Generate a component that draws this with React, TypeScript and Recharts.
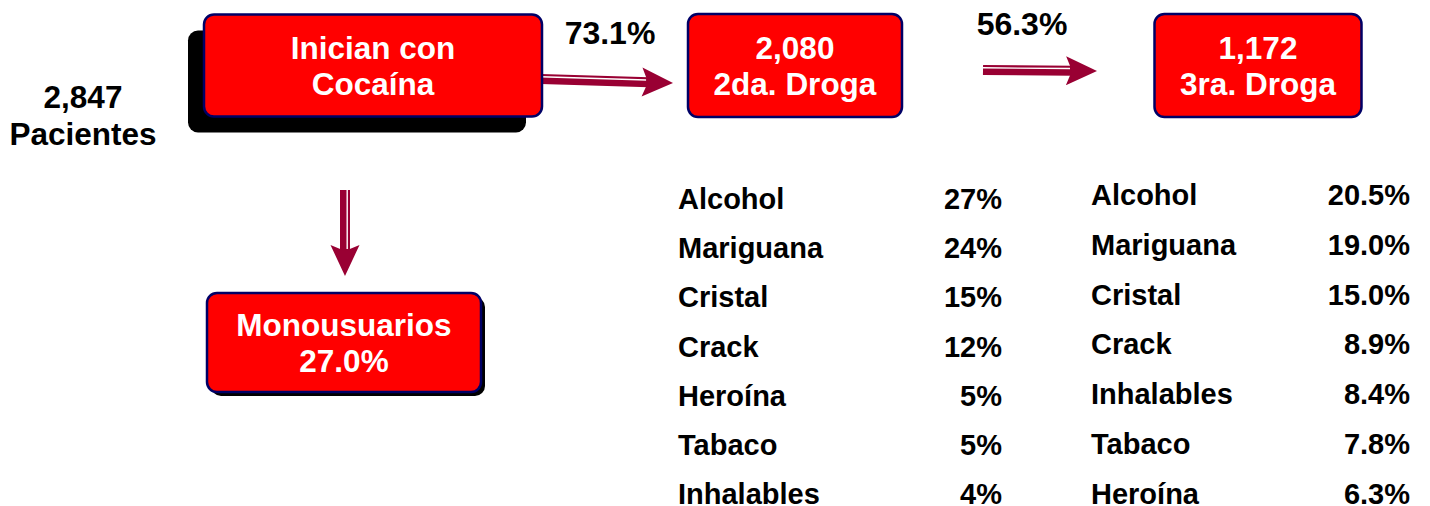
import { ScatterChart, Scatter, XAxis, YAxis, ReferenceLine } from 'recharts';

// ---- data ----
const totalPatients = 2847;
const stageLabels = ['Inician con Cocaína', '2da. Droga', '3ra. Droga'];
const stageCounts = [2847, 2080, 1172];
const transitionPct = [73.1, 56.3];
const monoUsersPct = 27.0;

const secondDrugNames = ['Alcohol', 'Mariguana', 'Cristal', 'Crack', 'Heroína', 'Tabaco', 'Inhalables'];
const secondDrugPct = [27, 24, 15, 12, 5, 5, 4];
const thirdDrugNames = ['Alcohol', 'Mariguana', 'Cristal', 'Crack', 'Inhalables', 'Tabaco', 'Heroína'];
const thirdDrugPct = [20.5, 19.0, 15.0, 8.9, 8.4, 7.8, 6.3];

// ---- layout / style ----
const W = 1430;
const H = 506;
const FONT = '"Liberation Sans", Arial, Helvetica, sans-serif';
const RED = '#FF0000';
const NAVY = '#000066';
const MAROON = '#990033';

const fmt = (n: number) => n.toLocaleString('en-US');

const boxes = [
  { x: 373, y: 65.5, w: 338, h: 102, sdx: -16, sdy: 16, lines: ['Inician con', 'Cocaína'] },
  { x: 795, y: 65.5, w: 214, h: 103, sdx: 0, sdy: 0, lines: [fmt(stageCounts[1]), stageLabels[1]] },
  { x: 1258, y: 65.5, w: 207, h: 103, sdx: 0, sdy: 0, lines: [fmt(stageCounts[2]), stageLabels[2]] },
  { x: 344, y: 342.5, w: 274, h: 99, sdx: 4, sdy: 4, lines: ['Monousuarios', `${monoUsersPct.toFixed(1)}%`] },
];

const labels = [
  { x: 83, y: 97, text: fmt(totalPatients), size: 31.5 },
  { x: 83, y: 134, text: 'Pacientes', size: 31.5 },
  { x: 610, y: 33, text: `${transitionPct[0].toFixed(1)}%`, size: 32 },
  { x: 1022, y: 24, text: `${transitionPct[1].toFixed(1)}%`, size: 32 },
];

const arrows = [
  [{ x: 541, y: 79 }, { x: 673, y: 83 }],
  [{ x: 983, y: 70 }, { x: 1097, y: 71 }],
  [{ x: 345, y: 190 }, { x: 345, y: 276 }],
];

const secondRows = secondDrugNames.map((name, i) => ({
  x: 678, y: 199 + i * 49.2, name, value: `${secondDrugPct[i]}%`, colW: 324,
}));
const thirdRows = thirdDrugNames.map((name, i) => ({
  x: 1091, y: 195 + i * 49.8, name, value: `${thirdDrugPct[i].toFixed(1)}%`, colW: 319,
}));

const BoxShape = (props: any) => {
  const { cx, cy, payload } = props;
  const { w, h, sdx, sdy, lines } = payload;
  const x = cx - w / 2;
  const y = cy - h / 2;
  return (
    <g>
      {(sdx !== 0 || sdy !== 0) && (
        <rect x={x + sdx} y={y + sdy} width={w} height={h} rx={10} fill="#000" />
      )}
      <rect x={x} y={y} width={w} height={h} rx={10} fill={RED} stroke={NAVY} strokeWidth={2.5} />
      {lines.map((t: string, i: number) => (
        <text
          key={i}
          x={cx}
          y={cy + (i - (lines.length - 1) / 2) * 36}
          textAnchor="middle"
          dominantBaseline="central"
          fill="#fff"
          fontFamily={FONT}
          fontWeight="bold"
          fontSize={31.5}
        >
          {t}
        </text>
      ))}
    </g>
  );
};

const LabelShape = (props: any) => {
  const { cx, cy, payload } = props;
  return (
    <text x={cx} y={cy} textAnchor="middle" dominantBaseline="central" fill="#000"
      fontFamily={FONT} fontWeight="bold" fontSize={payload.size}>
      {payload.text}
    </text>
  );
};

const RowShape = (props: any) => {
  const { cx, cy, payload } = props;
  return (
    <g fontFamily={FONT} fontWeight="bold" fontSize={29} fill="#000">
      <text x={cx} y={cy} dominantBaseline="central">{payload.name}</text>
      <text x={cx + payload.colW} y={cy} textAnchor="end" dominantBaseline="central">{payload.value}</text>
    </g>
  );
};

const DoubleArrow = (props: any) => {
  const { x1, y1, x2, y2 } = props;
  const L = Math.hypot(x2 - x1, y2 - y1);
  const ang = (Math.atan2(y2 - y1, x2 - x1) * 180) / Math.PI;
  return (
    <g transform={`translate(${x1},${y1}) rotate(${ang})`}>
      <rect x={0} y={-5} width={L - 24} height={10} fill={MAROON} />
      <line x1={0} y1={-2.2} x2={L - 27} y2={-2.2} stroke="#fff" strokeWidth={1.4} />
      <polygon points={`${L},0 ${L - 31},-14.5 ${L - 25},0 ${L - 31},14.5`} fill={MAROON} />
    </g>
  );
};

export default function App() {
  return (
    <div style={{ position: 'absolute', left: 0, top: 0, width: W, height: H, background: '#fff' }}>
      <ScatterChart width={W} height={H} margin={{ top: 0, right: 0, bottom: 0, left: 0 }}>
        <XAxis type="number" dataKey="x" domain={[0, W]} hide allowDataOverflow />
        <YAxis type="number" dataKey="y" domain={[0, H]} reversed hide allowDataOverflow />
        {arrows.map((seg, i) => (
          <ReferenceLine key={i} segment={seg} ifOverflow="visible" shape={(p: any) => <DoubleArrow {...p} />} />
        ))}
        <Scatter data={boxes} shape={(p: any) => <BoxShape {...p} />} isAnimationActive={false} />
        <Scatter data={labels} shape={(p: any) => <LabelShape {...p} />} isAnimationActive={false} />
        <Scatter data={secondRows} shape={(p: any) => <RowShape {...p} />} isAnimationActive={false} />
        <Scatter data={thirdRows} shape={(p: any) => <RowShape {...p} />} isAnimationActive={false} />
      </ScatterChart>
    </div>
  );
}
